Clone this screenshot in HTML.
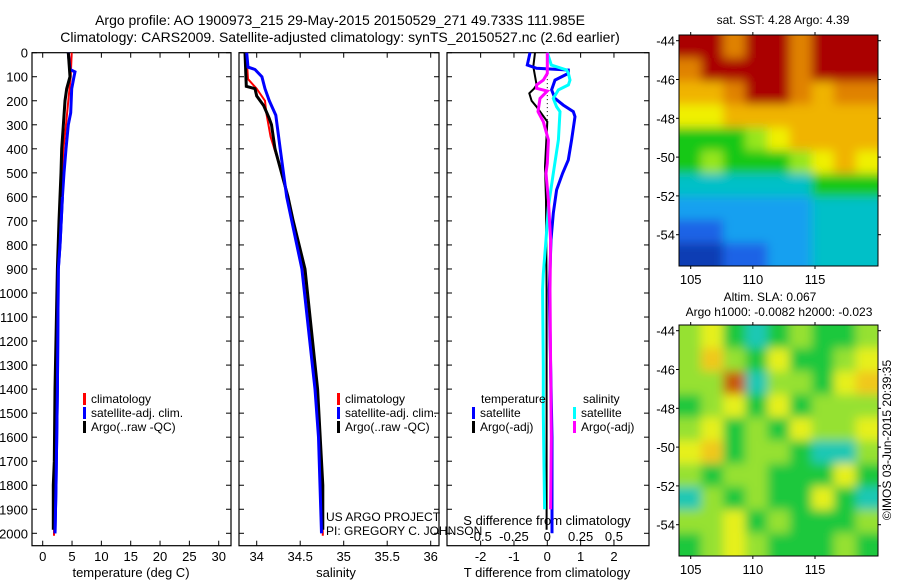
<!DOCTYPE html>
<html><head><meta charset="utf-8"><style>
html,body{margin:0;padding:0;background:#fff;}
svg{display:block;font-family:"Liberation Sans",sans-serif;}
</style></head><body>
<svg id="c" width="900" height="580" viewBox="0 0 900 580">
<defs>
<filter id="blur" x="-10%" y="-10%" width="120%" height="120%"><feGaussianBlur stdDeviation="5"/></filter>
<clipPath id="clip1"><rect x="679" y="35" width="199" height="231"/></clipPath>
<clipPath id="clip2"><rect x="679" y="325" width="199" height="231"/></clipPath>
</defs>
<text x="340" y="25" font-size="14" text-anchor="middle">Argo profile: AO 1900973_215 29-May-2015 20150529_271 49.733S 111.985E</text>
<text x="340" y="42" font-size="14" text-anchor="middle">Climatology: CARS2009. Satellite-adjusted climatology: synTS_20150527.nc (2.6d earlier)</text>
<g id="g"></g>
</svg>
<script>
// ---- data ----
const depthTicks=[0,100,200,300,400,500,600,700,800,900,1000,1100,1200,1300,1400,1500,1600,1700,1800,1900,2000];
const tempTicks=[0,5,10,15,20,25,30];
const salTicks=[34,34.5,35,35.5,36];
const tdTicks=[-2,-1,0,1,2];
const sdTicks=[-0.5,-0.25,0,0.25,0.5];
const sdTickLabels=["-0.5","-0.25","0","0.25","0.5"];
const latTicks=[-44,-46,-48,-50,-52,-54];
const lonTicks=[105,110,115];

const tClimD=[0,100,200,300,400,600,900,1400,1970,2010];
const tClimV=[4.94,4.77,4.37,3.97,3.52,3.12,2.66,2.2,1.93,1.93];
const tArgoD=[0,100,150,200,310,400,500,600,700,900,1400,1700,1800,1985];
const tArgoV=[4.37,4.65,4.09,3.8,3.5,3.24,3.12,2.95,2.78,2.5,2.1,1.98,1.8,1.8];
const tSatD=[0,70,80,100,150,250,300,400,500,600,800,900,1400,1600,1800,2000];
const tSatV=[4.37,4.65,5.5,5.33,4.94,4.77,4.37,3.97,3.63,3.35,2.95,2.66,2.5,2.38,2.27,2.1];

const sClimD=[0,110,150,200,250,350,500,600,900,1400,2000,2010];
const sClimV=[33.88,33.9,34.0,34.095,34.11,34.16,34.29,34.35,34.535,34.69,34.76,34.76];
const sArgoD=[0,140,150,180,220,270,300,400,480,600,700,900,1400,1800,1985];
const sArgoV=[33.865,33.88,33.98,34.0,34.08,34.14,34.17,34.21,34.27,34.36,34.42,34.555,34.7,34.76,34.76];
const sSatD=[0,60,70,100,150,200,260,400,600,900,1400,1600,2000];
const sSatV=[33.885,33.9,33.98,34.06,34.095,34.145,34.22,34.27,34.345,34.52,34.67,34.71,34.745];

const dTArgoD=[0,58,134,150,169,200,225,287,474,613,988,1500,1985];
const dTArgoV=[-0.37,-0.42,-0.32,-0.4,-0.54,-0.47,-0.32,0,-0.07,-0.04,-0.02,-0.02,-0.02];
const dTSatD=[0,51,65,72,86,114,155,190,218,245,266,363,446,502,571,668,779,988,1300,1600,2000];
const dTSatV=[-0.52,-0.6,-0.32,0.63,0.63,0.23,0.13,0.23,0.48,0.78,0.83,0.73,0.63,0.46,0.28,0.18,0.11,0.06,0.1,0.14,0.14];
const dSSatD=[0,51,72,86,114,134,155,190,225,245,363,502,640,779,920,988,1300,1500,1900];
const dSSatV=[0,0.03,0.145,0.158,0.17,0.158,0.083,0.045,0.07,0.095,0.083,0.045,0.008,-0.01,-0.03,-0.035,-0.03,-0.03,-0.02];
const dSArgoD=[0,86,114,134,148,160,190,245,287,363,460,502,613,779,988,1300,1600,1900];
const dSArgoV=[0,0,-0.03,-0.08,-0.08,0,-0.055,-0.07,-0.03,0.008,0,-0.01,0.008,0.025,0.02,0.025,0.03,0.025];

const sstGrid=[
[9,9,8,9,9,8,9,9,9],
[8,9,9,9,9,8,9,9,9],
[7,7,8,9,9,8,7,8,8],
[6,6,7,7,7,7,7,7,7],
[4,4,4,5,6,7,7,7,7],
[4,5,4,4,4,5,6,7,6],
[3,3,3,3,3,3,4,4,4],
[2,2,2,2,2,2,3,3,3],
[1,1,2,2,2,2,3,3,3],
[0,0,1,1,2,2,3,3,3]];
const slaGrid=[
[5,6,4,3,4,5,4,4,5],
[5,7,5,4,6,4,4,5,6],
[5,5,8,3,5,5,4,6,7],
[4,5,6,4,6,4,5,5,5],
[5,6,4,5,4,6,5,5,6],
[6,7,4,5,5,4,3,3,5],
[5,4,5,5,4,4,4,6,4],
[3,5,4,5,4,4,6,4,3],
[5,5,6,4,5,4,4,4,5],
[4,5,6,5,4,4,4,5,4]];
const palette=["#0a3cb4","#1e64e6","#14a0f0","#00c0c8","#14c814","#96e61e","#f0f000","#f0b400","#e08200","#aa0000"];

// ---- drawing ----
const NS="http://www.w3.org/2000/svg";
const G=document.getElementById('g');
function mk(tag,attrs,parent){const e=document.createElementNS(NS,tag);for(const k in attrs)e.setAttribute(k,attrs[k]);(parent||G).appendChild(e);return e;}
function txt(x,y,s,size,anchor,name,parent){const t=mk('text',{x:x,y:y,'font-size':size,'text-anchor':anchor||'middle'},parent);t.textContent=s;


return t;}
const yD=d=>52.7+d*0.2403;
const yTop=52.7,yBot=545.7;
function panel(x0,x1,name,labels){
  const r=mk('rect',{x:x0,y:yTop,width:x1-x0,height:yBot-yTop,fill:'none',stroke:'#000','stroke-width':1.2});
  
  
  depthTicks.forEach(d=>{const y=yD(d);
    mk('line',{x1:x0,x2:x0+5,y1:y,y2:y,stroke:'#000'});
    mk('line',{x1:x1,x2:x1-5,y1:y,y2:y,stroke:'#000'});
    if(labels) txt(x0-4,y+5,String(d),13,'end','depth-tick-label');
  });
}
function line(D,V,fx,color,w,name){
  const pts=D.map((d,i)=>fx(V[i]).toFixed(1)+','+yD(d).toFixed(1)).join(' ');
  const p=mk('polyline',{points:pts,fill:'none',stroke:color,'stroke-width':w,'stroke-linejoin':'miter'});
  
  
}
function xticks(vals,fx,labs,ly,name){
  vals.forEach((v,i)=>{const x=fx(v);
    mk('line',{x1:x,x2:x,y1:yTop,y2:yTop+5,stroke:'#000'});
    mk('line',{x1:x,x2:x,y1:yBot,y2:yBot-5,stroke:'#000'});
    txt(x,ly,labs[i],13,'middle',name);
  });
}
function legend(x,y,items){
  items.forEach((it,i)=>{
    const b=mk('rect',{x:x,y:y+i*14-10,width:3,height:12,fill:it[0]});
    
    
    txt(x+8,y+i*14,it[1],12,'start','legend-entry');
  });
}
const fT=v=>42.7+v*5.867;
panel(32,231,'temperature-plot',true);
xticks(tempTicks,fT,tempTicks.map(String),561,'temperature-tick-label');
txt(131,577,'temperature (deg C)',13,'middle','temperature-axis-title');
line(tClimD,tClimV,fT,'#f00',2,'temp-climatology-line');
line(tSatD,tSatV,fT,'#00f',3,'temp-satellite-line');
line(tArgoD,tArgoV,fT,'#000',3,'temp-argo-line');
line(tSatD.slice(9),tSatV.slice(9),fT,'#00f',3,'temp-satellite-line-deep');
legend(83,403,[['#f00','climatology'],['#00f','satellite-adj. clim.'],['#000','Argo(..raw -QC)']]);
const fS=v=>256.7+(v-34)*87;
panel(239,439,'salinity-plot',false);
xticks(salTicks,fS,salTicks.map(String),561,'salinity-tick-label');
txt(336,577,'salinity',13,'middle','salinity-axis-title');
line(sClimD,sClimV,fS,'#f00',2,'sal-climatology-line');
line(sArgoD,sArgoV,fS,'#000',3,'sal-argo-line');
line(sSatD,sSatV,fS,'#00f',3,'sal-satellite-line');
legend(337,403,[['#f00','climatology'],['#00f','satellite-adj. clim.'],['#000','Argo(..raw -QC)']]);
txt(326,521,'US ARGO PROJECT',12,'start','project-label');
txt(326,535,'PI: GREGORY C. JOHNSON',12,'start','pi-label');
const fdT=v=>547.3+v*33.33;
const fdS=v=>547.3+v*133.3;
panel(447,649,'difference-plot',false);
xticks(tdTicks,fdT,tdTicks.map(String),561,'t-diff-tick-label');
sdTicks.forEach((v,i)=>txt(fdS(v),541,sdTickLabels[i],13,'middle','s-diff-tick-label'));
txt(547,525,'S difference from climatology',13,'middle','s-diff-axis-title');
txt(547,577,'T difference from climatology',13,'middle','t-diff-axis-title');
const zl=mk('line',{x1:547.3,x2:547.3,y1:yD(60),y2:yD(280),stroke:'#000','stroke-dasharray':'1,3'});


line(dTArgoD,dTArgoV,fdT,'#000',2,'tdiff-argo-line');
line(dTSatD,dTSatV,fdT,'#00f',3,'tdiff-satellite-line');
line(dSSatD,dSSatV,fdS,'#0ff',3,'sdiff-satellite-line');
line(dSArgoD,dSArgoV,fdS,'#f0f',3,'sdiff-argo-line');
txt(481,403,'temperature',12,'start','legend-title-temperature');
txt(583,403,'salinity',12,'start','legend-title-salinity');
legend(472,417,[['#00f','satellite'],['#000','Argo(-adj)']]);
legend(573,417,[['#0ff','satellite'],['#f0f','Argo(-adj)']]);
function map(y0,y1,grid,pal,name,clip){
  const x0=679,x1=878;
  const nr=grid.length,nc=grid[0].length;
  const cw=(x1-x0)/nc, ch=(y1-y0)/nr;
  const outer=mk('g',{'clip-path':'url(#'+clip+')'});
  
  
  const g=mk('g',{filter:'url(#blur)'},outer);
  const pad=15;
  grid.forEach((row,r)=>row.forEach((v,c)=>{
    let x=x0+c*cw,y=y0+r*ch,w=cw+0.6,h=ch+0.6;
    if(c===0){x-=pad;w+=pad;} if(c===nc-1){w+=pad;}
    if(r===0){y-=pad;h+=pad;} if(r===nr-1){h+=pad;}
    const cell=mk('rect',{x:x.toFixed(2),y:y.toFixed(2),width:w.toFixed(2),height:h.toFixed(2),fill:pal[v]},g);
    
    
  }));
  mk('rect',{x:x0,y:y0,width:x1-x0,height:y1-y0,fill:'none',stroke:'#000','stroke-width':1});
  const fy=l=>y0+5.7+(-44-l)*19.4;
  const fx=l=>690.7+(l-105)*12.43;
  latTicks.forEach(l=>{const y=fy(l);
    mk('line',{x1:x0-3,x2:x0,y1:y,y2:y,stroke:'#000'});mk('line',{x1:x1,x2:x1+3,y1:y,y2:y,stroke:'#000'});
    txt(x0-4,y+5,String(l),13,'end','lat-tick-label');});
  lonTicks.forEach(l=>{const x=fx(l);
    mk('line',{x1:x,x2:x,y1:y0-3,y2:y0,stroke:'#000'});mk('line',{x1:x,x2:x,y1:y1,y2:y1+3,stroke:'#000'});
    txt(x,y1+18,String(l),13,'middle','lon-tick-label');});
}
map(35,266,sstGrid,palette,'sst-map','clip1');
txt(783,24,'sat. SST: 4.28 Argo: 4.39',12,'middle','sst-map-title');
const slaPal=["#0a3cb4","#1e64e6","#14a0f0","#1ec8b4","#1ec83c","#96e132","#e6f01e","#f0c81e","#c85a0a"];
map(325,556,slaGrid,slaPal,'sla-map','clip2');
txt(770,301,'Altim. SLA: 0.067',12,'middle','sla-map-title');
txt(779,316,'Argo h1000: -0.0082 h2000: -0.023',12,'middle','sla-map-subtitle');
const cp=txt(0,0,'©IMOS 03-Jun-2015 20:39:35',12,'middle','imos-credit');
cp.setAttribute('transform','translate(891,440) rotate(-90)');
</script>
</body></html>
